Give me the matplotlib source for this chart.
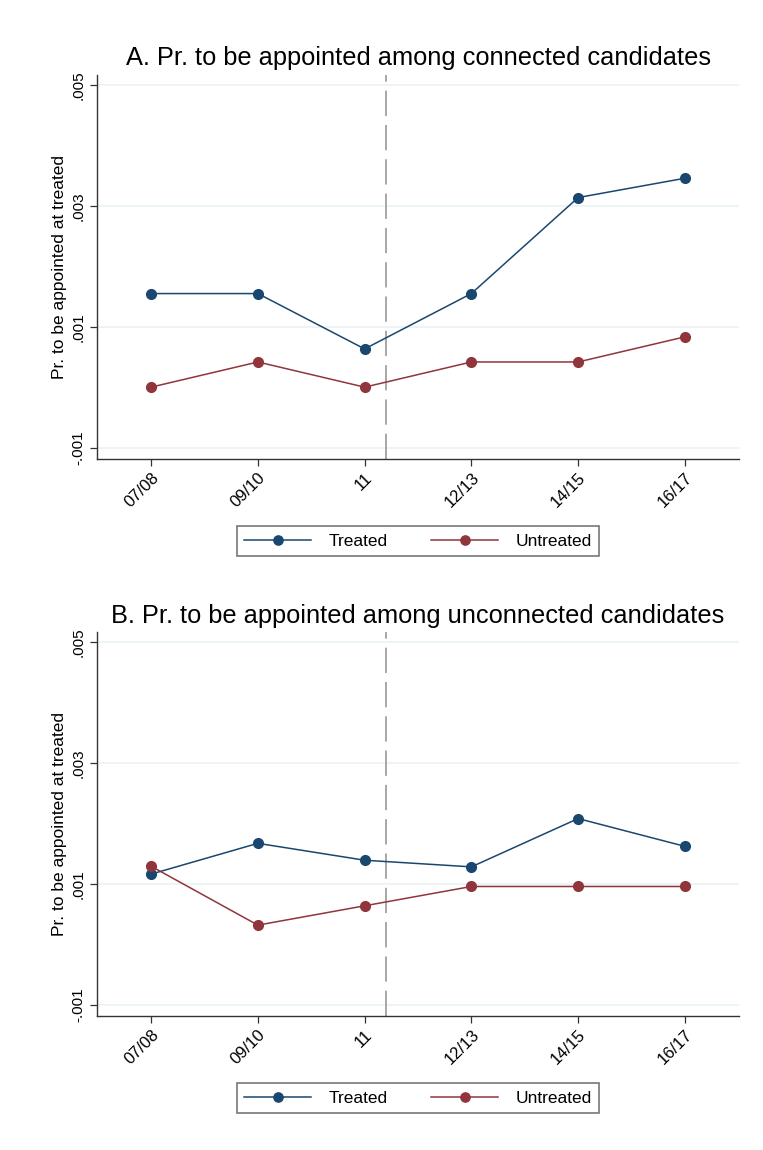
import matplotlib
matplotlib.use("Agg")
import matplotlib.pyplot as plt

plt.rcParams['font.family'] = ['Liberation Sans', 'DejaVu Sans']

periods = ["07/08", "09/10", "11", "12/13", "14/15", "16/17"]
ytick_vals = [-0.001, 0.001, 0.003, 0.005]
ytick_labels = ["-.001", ".001", ".003", ".005"]

treated_a = [0.00155, 0.00155, 0.000633, 0.00155, 0.00314, 0.00346]
untreated_a = [0.0, 0.000417, 0.0, 0.000417, 0.000417, 0.000833]
treated_b = [0.00116, 0.00167, 0.00139, 0.00128, 0.00208, 0.00162]
untreated_b = [0.00129, 0.000315, 0.000635, 0.000955, 0.000955, 0.000955]

titles = ["A. Pr. to be appointed among connected candidates",
          "B. Pr. to be appointed among unconnected candidates"]
ylabel = "Pr. to be appointed at treated"
event_x = 2.2

c_treated = "#1a476f"
c_untreated = "#90353b"

fig = plt.figure(figsize=(7.63, 11.5), dpi=100)
W, H = 763, 1150
panels = [
    dict(top=75, bottom=459, tr=treated_a, un=untreated_a, title=titles[0], title_y=58, leg_y=541),
    dict(top=632, bottom=1016, tr=treated_b, un=untreated_b, title=titles[1], title_y=616, leg_y=1098),
]
left, right = 96.7, 739.3
x = list(range(len(periods)))

for p in panels:
    ax = fig.add_axes([left / W, 1 - p['bottom'] / H, (right - left) / W, (p['bottom'] - p['top']) / H])
    ax.set_xlim(-0.51, 5.51)
    ax.set_ylim(-0.00119, 0.00517)
    for yv in ytick_vals:
        ax.axhline(yv, color="#eaf2f3", lw=1.2, zorder=0)
    ax.axvline(event_x, color="#a0a0a0", lw=1.3, dashes=(14, 5), zorder=1)
    l1, = ax.plot(x, p['tr'], color=c_treated, lw=1.1, marker='o', ms=7, label="Treated", zorder=3)
    l2, = ax.plot(x, p['un'], color=c_untreated, lw=1.1, marker='o', ms=7, label="Untreated", zorder=3)
    ax.set_yticks(ytick_vals)
    ax.set_yticklabels(ytick_labels, rotation=90, va='center', fontsize=11)
    ax.set_xticks(x)
    ax.set_xticklabels(periods, rotation=45, ha='right', rotation_mode='anchor', fontsize=12)
    ax.tick_params(axis='both', length=5, width=0.9, color="#333333", pad=3)
    for s in ['top', 'right']:
        ax.spines[s].set_visible(False)
    for s in ['left', 'bottom']:
        ax.spines[s].set_color("#333333")
        ax.spines[s].set_linewidth(1.0)
    ax.set_ylabel(ylabel, fontsize=12.5, labelpad=3)
    fig.text((left + right) / 2 / W, 1 - p['title_y'] / H, p['title'], ha='center', va='center', fontsize=18.3)
    leg = fig.legend(handles=[l1, l2], loc='center', ncol=2,
                     bbox_to_anchor=((left + right) / 2 / W, 1 - p['leg_y'] / H),
                     frameon=True, fancybox=False, edgecolor="#555555", fontsize=12.5,
                     handlelength=3.85, columnspacing=2.5, handletextpad=1.0,
                     borderpad=0.4, borderaxespad=0, markerscale=0.95)
    leg.get_frame().set_linewidth(1.2)

fig.savefig("out.png", dpi=100, facecolor="white")
